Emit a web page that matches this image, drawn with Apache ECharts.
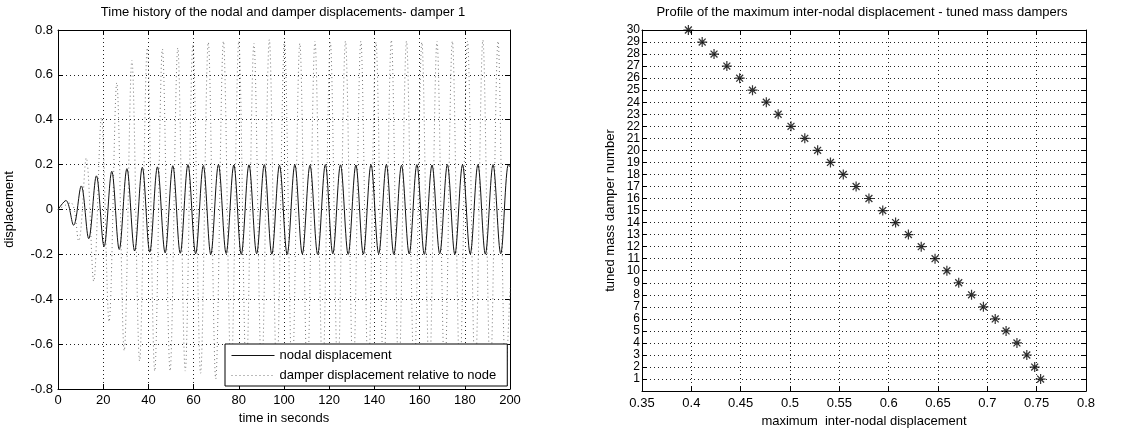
<!DOCTYPE html>
<html>
<head>
<meta charset="utf-8">
<script src="https://cdn.jsdelivr.net/npm/echarts@6/dist/echarts.min.js"></script>
<style>
  html, body { margin: 0; padding: 0; background: #fff; }
  .EC { width: 1135px; height: 433px; }
</style>
</head>
<body>
<div class="EC"></div>
<script>
// time history - extremes
const nodalT = [0,
    3.5, 6.9, 10.3, 13.6, 17.0, 20.4, 23.8, 27.1, 30.5, 33.9,
    37.3, 40.6, 44.0, 47.4, 50.8, 54.1, 57.5, 60.9, 64.3, 67.6,
    71.0, 74.4, 77.8, 81.1, 84.5, 87.9, 91.3, 94.6, 98.0, 101.4,
    104.8, 108.1, 111.5, 114.9, 118.3, 121.6, 125.0, 128.4, 131.8, 135.1,
    138.5, 141.9, 145.3, 148.6, 152.0, 155.4, 158.8, 162.1, 165.5, 168.9,
    172.3, 175.6, 179.0, 182.4, 185.8, 189.1, 192.5, 195.9, 199.3,
    200]
const nodalV = [0,
    0.04, -0.07, 0.105, -0.13, 0.15, -0.165, 0.17, -0.178, 0.182, -0.185,
    0.188, -0.19, 0.19, -0.193, 0.195, -0.195, 0.2, -0.197, 0.196, -0.2,
    0.2, -0.196, 0.198, -0.2, 0.199, -0.197, 0.2, -0.199, 0.197, -0.2,
    0.2, -0.198, 0.197, -0.2, 0.2, -0.197, 0.199, -0.2, 0.198, -0.199,
    0.2, -0.197, 0.2, -0.2, 0.197, -0.198, 0.2, -0.2, 0.198, -0.197,
    0.2, -0.2, 0.199, -0.198, 0.2, -0.199, 0.2, -0.197, 0.2,
    0.19]
const damperT = [0,
    5.7, 9.1, 12.5, 15.8, 19.2, 22.6, 26.0, 29.3, 32.7, 36.1,
    39.5, 42.8, 46.2, 49.6, 53.0, 56.3, 59.7, 63.1, 66.5, 69.8,
    73.2, 76.6, 80.0, 83.3, 86.7, 90.1, 93.5, 96.8, 100.2, 103.6,
    107.0, 110.3, 113.7, 117.1, 120.5, 123.8, 127.2, 130.6, 134.0, 137.3,
    140.7, 144.1, 147.5, 150.8, 154.2, 157.6, 161.0, 164.3, 167.7, 171.1,
    174.5, 177.8, 181.2, 184.6, 188.0, 191.3, 194.7, 198.1,
    200]
const damperV = [0,
    0.03, -0.14, 0.23, -0.32, 0.41, -0.5, 0.565, -0.63, 0.665, -0.675,
    0.72, -0.72, 0.715, -0.72, 0.72, -0.72, 0.735, -0.73, 0.745, -0.755,
    0.75, -0.75, 0.75, -0.745, 0.74, -0.75, 0.757, -0.75, 0.75, -0.755,
    0.74, -0.75, 0.75, -0.75, 0.745, -0.75, 0.75, -0.755, 0.75, -0.75,
    0.745, -0.75, 0.755, -0.75, 0.75, -0.75, 0.745, -0.755, 0.75, -0.75,
    0.75, -0.745, 0.75, -0.75, 0.755, -0.75, 0.75, -0.75,
    -0.35]

// profile - right plot
const damperNo = [1, 2, 3, 4, 5, 6, 7, 8, 9, 10, 11, 12, 13, 14, 15,
    16, 17, 18, 19, 20, 21, 22, 23, 24, 25, 26, 27, 28, 29, 30]
const maxDisp = [0.754, 0.748, 0.740, 0.730, 0.719, 0.708, 0.696, 0.684, 0.671, 0.659,
    0.647, 0.633, 0.620, 0.607, 0.594, 0.580, 0.567, 0.554, 0.541, 0.528,
    0.515, 0.501, 0.488, 0.476, 0.462, 0.449, 0.436, 0.423, 0.411, 0.397]

const FONT = 'Liberation Sans'
const FS = 13
const star = 'path://M4.4,0 L5.6,0 L5.6,10 L4.4,10 Z M0,4.4 L10,4.4 L10,5.6 L0,5.6 Z ' +
    'M1.1,2.0 L2.0,1.1 L8.9,8.0 L8.0,8.9 Z M8.0,1.1 L8.9,2.0 L2.0,8.9 L1.1,8.0 Z'

let EC = echarts.init(document.querySelector('.EC'))

const gridLine = { show: true, lineStyle: { color: '#222', type: [1, 3], width: 1 } }
const axLine = { show: true, onZero: false, lineStyle: { color: '#000', width: 1 } }
const tick = { show: true, inside: true, length: 5, lineStyle: { color: '#000' } }
const lbl = { color: '#000', fontFamily: FONT, fontSize: FS }

// mirror axes for the box ticks on top / right
const mirrorX = (grid, min, max, interval) => ({
    type: 'value', gridIndex: grid, position: 'top', min, max, interval,
    axisLine: axLine, axisTick: tick, axisLabel: { show: false }, splitLine: { show: false }
})
const mirrorY = (grid, min, max, interval) => ({
    type: 'value', gridIndex: grid, position: 'right', min, max, interval,
    axisLine: axLine, axisTick: tick, axisLabel: { show: false }, splitLine: { show: false }
})

let option = {
    animation: false,
    backgroundColor: '#fff',
    textStyle: { fontFamily: FONT },
    title: [{
        text: 'Time history of the nodal and damper displacements- damper 1',
        left: 283, top: 6, padding: 0, textAlign: 'center',
        textStyle: { fontSize: FS, fontWeight: 'normal', color: '#000', fontFamily: FONT }
    }, {
        text: 'Profile of the maximum inter-nodal displacement - tuned mass dampers',
        left: 862, top: 6, padding: 0, textAlign: 'center',
        textStyle: { fontSize: FS, fontWeight: 'normal', color: '#000', fontFamily: FONT }
    }],
    legend: {
        orient: 'vertical',
        left: 225, top: 344,
        backgroundColor: '#fff',
        borderColor: '#000',
        borderWidth: 1,
        borderRadius: 0,
        padding: [5, 11, 4, 6],
        itemGap: 7,
        itemWidth: 43,
        itemHeight: 10,
        itemStyle: { opacity: 0 },
        lineStyle: { width: 1 },
        textStyle: { color: '#000', fontFamily: FONT, fontSize: FS },
        data: ['nodal displacement', 'damper displacement relative to node']
    },
    grid: [
        { left: 58, top: 30, width: 452, height: 359 },
        { left: 642, top: 30, width: 444, height: 363 }
    ],
    xAxis: [{
        type: 'value', gridIndex: 0, min: 0, max: 200, interval: 20,
        name: 'time in seconds', nameLocation: 'middle', nameGap: 21,
        nameTextStyle: lbl,
        axisLine: axLine, axisTick: tick,
        axisLabel: Object.assign({ margin: 5 }, lbl),
        splitLine: gridLine
    },
    mirrorX(0, 0, 200, 20),
    {
        type: 'value', gridIndex: 1, min: 0.35, max: 0.8, interval: 0.05,
        name: 'maximum  inter-nodal displacement', nameLocation: 'middle', nameGap: 22,
        nameTextStyle: lbl,
        axisLine: axLine, axisTick: tick,
        axisLabel: Object.assign({ margin: 6 }, lbl),
        splitLine: gridLine
    },
    mirrorX(1, 0.35, 0.8, 0.05)],
    yAxis: [{
        type: 'value', gridIndex: 0, min: -0.8, max: 0.8, interval: 0.2,
        name: 'displacement', nameLocation: 'middle', nameGap: 42,
        nameTextStyle: lbl,
        axisLine: axLine, axisTick: tick,
        axisLabel: Object.assign({ margin: 5 }, lbl),
        splitLine: gridLine
    },
    mirrorY(0, -0.8, 0.8, 0.2),
    {
        type: 'value', gridIndex: 1, min: 0, max: 30, interval: 1,
        name: 'tuned mass damper number', nameLocation: 'middle', nameGap: 25,
        nameTextStyle: lbl,
        axisLine: axLine, axisTick: tick,
        axisLabel: Object.assign({}, lbl, {
            fontSize: 12,
            lineHeight: 11,
            margin: 2,
            showMaxLabel: true,
            showMinLabel: true,
            hideOverlap: false,
            formatter: v => (v === 0 ? '' : String(v))
        }),
        splitLine: gridLine
    },
    mirrorY(1, 0, 30, 1)],
    series: [{
        name: 'nodal displacement',
        type: 'line',
        xAxisIndex: 0, yAxisIndex: 0,
        symbol: 'none', showSymbol: false,
        smooth: 0.35,
        lineStyle: { color: '#111', width: 1, type: 'solid' },
        itemStyle: { color: '#111' },
        data: nodalT.map((t, i) => [t, nodalV[i]]),
        z: 3
    }, {
        name: 'damper displacement relative to node',
        type: 'line',
        xAxisIndex: 0, yAxisIndex: 0,
        symbol: 'none', showSymbol: false,
        smooth: 0.35,
        lineStyle: { color: '#777', width: 1, type: [1, 3] },
        itemStyle: { color: '#777' },
        data: damperT.map((t, i) => [t, damperV[i]]),
        z: 2
    }, {
        name: 'profile',
        type: 'scatter',
        xAxisIndex: 2, yAxisIndex: 2,
        symbol: star,
        symbolSize: 10,
        itemStyle: { color: '#000' },
        data: maxDisp.map((v, i) => [v, damperNo[i]]),
        clip: false
    }]
}

EC.setOption(option)
</script>
</body>
</html>
